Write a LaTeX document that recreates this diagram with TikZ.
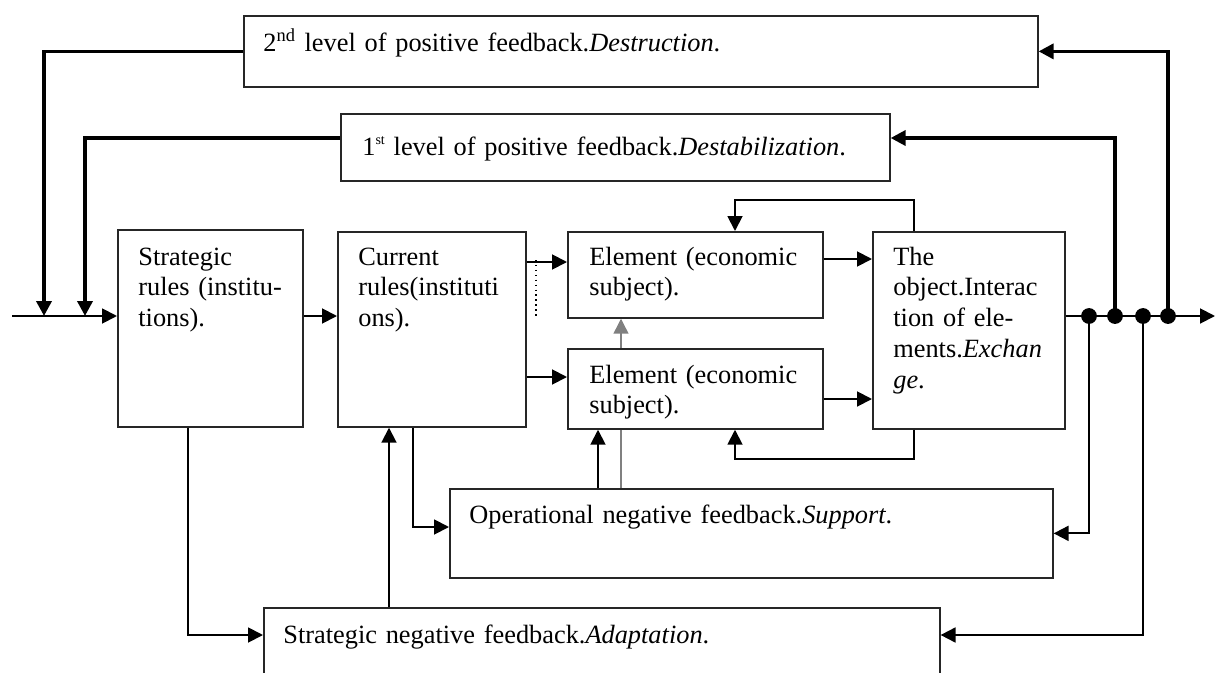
\documentclass[tikz,border=0pt]{standalone}
\usepackage{fontspec}
\setmainfont{Liberation Serif}
\usetikzlibrary{arrows.meta}
\tikzset{
	blk/.style={draw=black!85, line width=1pt, anchor=north west, inner sep=0pt},
	txt/.style={anchor=base west, inner sep=0pt, align=left, text width=14cm},
	arr/.style={line width=1.1pt, -{Triangle[length=8.5pt,width=8.5pt]}},
	thk/.style={line width=2pt},
	dot/.style={circle, fill, inner sep=0pt, minimum size=9pt}
}
\begin{document}
\begin{tikzpicture}[x=0.02cm, y=-0.02cm, font=\fontsize{15pt}{17.6pt}\selectfont]
			\clip (0,0) rectangle (1215,673);
			\node (D2) [blk, minimum width=15.88cm, minimum height=1.42cm] at (243,15) {};
			\node (D1) [blk, minimum width=10.98cm, minimum height=1.34cm] at (340,113) {};
			\node (SR) [blk, minimum width=3.7cm, minimum height=3.94cm] at (117,229) {};
			\node (CR) [blk, minimum width=3.76cm, minimum height=3.9cm] at (337,231) {};
			\node (E1) [blk, minimum width=5.1cm, minimum height=1.72cm] at (567,231) {};
			\node (E2) [blk, minimum width=5.1cm, minimum height=1.6cm] at (567,348) {};
			\node (OB) [blk, minimum width=3.84cm, minimum height=3.94cm] at (872,231) {};
			\node (ON) [blk, minimum width=12.06cm, minimum height=1.78cm] at (449,488) {};
			\node (SN) [blk, minimum width=13.52cm, minimum height=1.86cm] at (263,607) {};
			%
			\node (D2t) [txt] at (263,51) {2\textsuperscript{nd} level of positive feedback.\textit{Destruction}.};
			\node (D1t) [txt] at (362,155) {1\raisebox{0.9ex}{\footnotesize st} level of positive feedback.\textit{Destabilization}.};
			\node (SRt) [txt] at (138,265) {Strategic\\rules (institu-\\tions).};
			\node (CRt) [txt] at (358,265) {Current\\rules(instituti\\ons).};
			\node (E1t) [txt] at (589,265) {Element (economic\\subject).};
			\node (E2t) [txt] at (589,383) {Element (economic\\subject).};
			\node (OBt) [txt] at (893,265) {The\\object.Interac\\tion of ele-\\ments.\textit{Exchan}\\\textit{ge}.};
			\node (ONt) [txt] at (469,523) {Operational negative feedback.\textit{Support}.};
			\node (SNt) [txt] at (283,643) {Strategic negative feedback.\textit{Adaptation}.};
			%
			\coordinate (in) at (12,316);
			\coordinate (out) at (1215,316);
			\coordinate (j2) at (44,316);
			\coordinate (j1) at (85,316);
			\draw[arr] (in) -- (in -| SR.west);
			\draw[arr,thk] (D2.west) -| (j2);
			\draw[arr,thk] (D1.west |- 0,138) -| (j1);
			\draw[arr] (SR.east |- in) -- (CR.west |- in);
			\draw[arr] (CR.east |- 0,262) -- (E1.west |- 0,262);
			\draw[arr] (CR.east |- 0,377) -- (E2.west |- 0,377);
			\draw[dotted, line width=0.8pt] (536,260) -- (536,316);
			\draw[arr] (E1.east |- 0,259) -- (OB.west |- 0,259);
			\draw[arr] (E2.east |- 0,399) -- (OB.west |- 0,399);
			\draw[arr] (OB.north -| 914,0) -- ++(0,-31) -| (E1.north -| 735,0);
			\draw[arr] (OB.south -| 914,0) -- ++(0,29) -| (E2.south -| 735,0);
			\draw[arr] (ON.north -| 598,0) -- (E2.south -| 598,0);
			\draw[gray, line width=0.8pt] (ON.north -| 621,0) -- (E2.south -| 621,0);
			\draw[arr, gray, line width=0.8pt] (E2.north -| 621,0) -- (E1.south -| 621,0);
			\draw[arr] (CR.south -| 413,0) |- (ON.west |- 0,527);
			\draw[arr] (SR.south -| 188,0) |- (SN.west |- 0,635);
			\draw[arr] (SN.north -| 389,0) -- (CR.south -| 389,0);
			%
			\foreach \x/\n in {1089/p1,1115/p2,1143/p3,1168/p4}{
					\node (\n) [dot] at (\x,316) {};
				}
			\draw[arr] (OB.east |- in) -- (out);
			\draw[arr,thk] (p4.center) |- (D2.east);
			\draw[arr,thk] (p2.center) |- (D1.east |- 0,138);
			\draw[arr] (p1.center) |- (ON.east);
			\draw[arr] (p3.center) |- (SN.east |- 0,635);
		\end{tikzpicture}
\end{document}
